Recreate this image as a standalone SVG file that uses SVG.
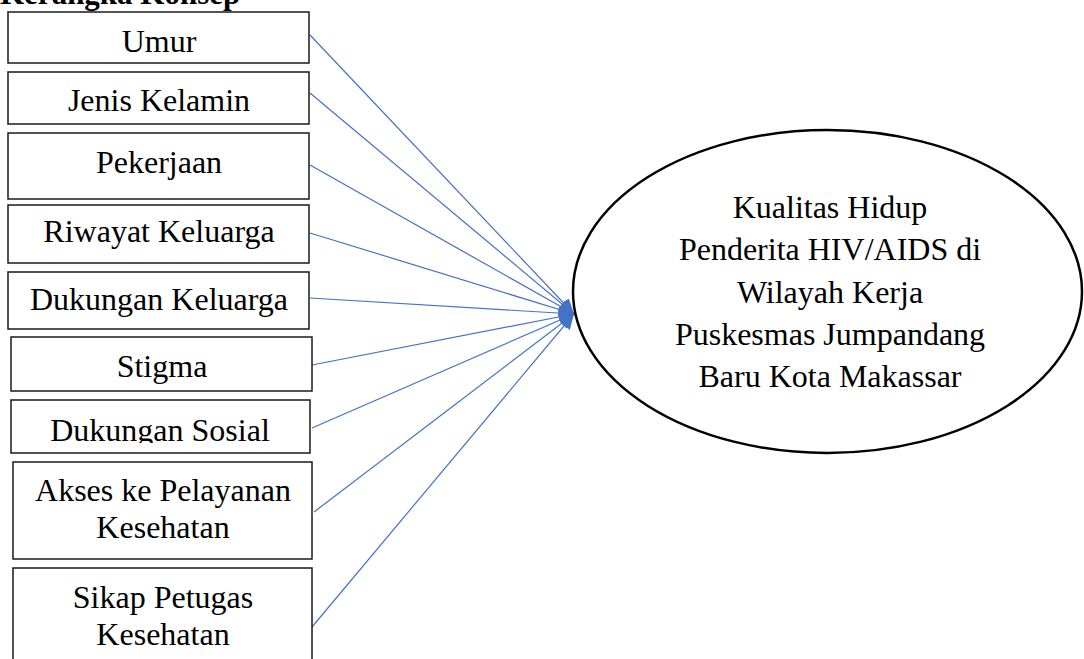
<svg xmlns="http://www.w3.org/2000/svg" width="1084" height="659" viewBox="0 0 1084 659">
<style>
.box{fill:#fff;stroke:#1a1a1a;stroke-width:1.5}
.t{font-family:"Liberation Serif","Times New Roman",serif;font-size:32px;fill:#000;text-anchor:middle}
.title{font-family:"Liberation Serif","Times New Roman",serif;font-size:31px;font-weight:bold;fill:#000}
.conn{stroke:#4472C4;stroke-width:1.2;fill:none;marker-end:url(#ah)}
</style>
<defs>
<marker id="ah" markerUnits="userSpaceOnUse" markerWidth="16" markerHeight="14" refX="15" refY="7" orient="auto">
<path d="M0,0 L15,7 L0,14 Z" fill="#4472C4"/>
</marker>
<clipPath id="clipSosial"><rect x="11" y="400" width="300" height="43"/></clipPath>
</defs>
<rect width="1084" height="659" fill="#fff"/>
<text class="title" x="0" y="4">Kerangka Konsep</text>
<g id="connectors">
<line class="conn" x1="310" y1="35" x2="574" y2="314"/>
<line class="conn" x1="310" y1="93" x2="574" y2="314"/>
<line class="conn" x1="310" y1="165" x2="574" y2="314"/>
<line class="conn" x1="310" y1="233" x2="574" y2="314"/>
<line class="conn" x1="310" y1="298" x2="574" y2="314"/>
<line class="conn" x1="312" y1="365" x2="574" y2="314"/>
<line class="conn" x1="312" y1="428" x2="574" y2="314"/>
<line class="conn" x1="314" y1="512" x2="574" y2="314"/>
<line class="conn" x1="312" y1="627" x2="574" y2="314"/>
</g>
<g id="umur"><rect class="box" x="8" y="12" width="301" height="51"/><text class="t" x="159" y="52">Umur</text></g>
<g id="jenis-kelamin"><rect class="box" x="8" y="72" width="301" height="52"/><text class="t" x="159" y="111">Jenis Kelamin</text></g>
<g id="pekerjaan"><rect class="box" x="8" y="133" width="301" height="66"/><text class="t" x="159" y="173">Pekerjaan</text></g>
<g id="riwayat-keluarga"><rect class="box" x="8" y="205" width="301" height="58"/><text class="t" x="159" y="242">Riwayat Keluarga</text></g>
<g id="dukungan-keluarga"><rect class="box" x="8" y="272" width="301" height="57"/><text class="t" x="159" y="310">Dukungan Keluarga</text></g>
<g id="stigma"><rect class="box" x="11" y="337" width="301" height="54"/><text class="t" x="162" y="377">Stigma</text></g>
<g id="dukungan-sosial"><rect class="box" x="11" y="400" width="299" height="53"/><text class="t" x="160" y="441" clip-path="url(#clipSosial)">Dukungan Sosial</text></g>
<g id="akses"><rect class="box" x="13" y="462" width="299" height="97"/><text class="t" x="163" y="501">Akses ke Pelayanan</text><text class="t" x="163" y="538">Kesehatan</text></g>
<g id="sikap"><rect class="box" x="13" y="568" width="299" height="110"/><text class="t" x="163" y="608">Sikap Petugas</text><text class="t" x="163" y="645">Kesehatan</text></g>
<g id="kualitas-hidup">
<ellipse cx="827.5" cy="291.5" rx="254.5" ry="161.5" fill="#fff" stroke="#000" stroke-width="2.5"/>
<text class="t" x="830" y="218">Kualitas Hidup</text>
<text class="t" x="830" y="260">Penderita HIV/AIDS di</text>
<text class="t" x="830" y="303">Wilayah Kerja</text>
<text class="t" x="830" y="345">Puskesmas Jumpandang</text>
<text class="t" x="830" y="387">Baru Kota Makassar</text>
</g>
</svg>
